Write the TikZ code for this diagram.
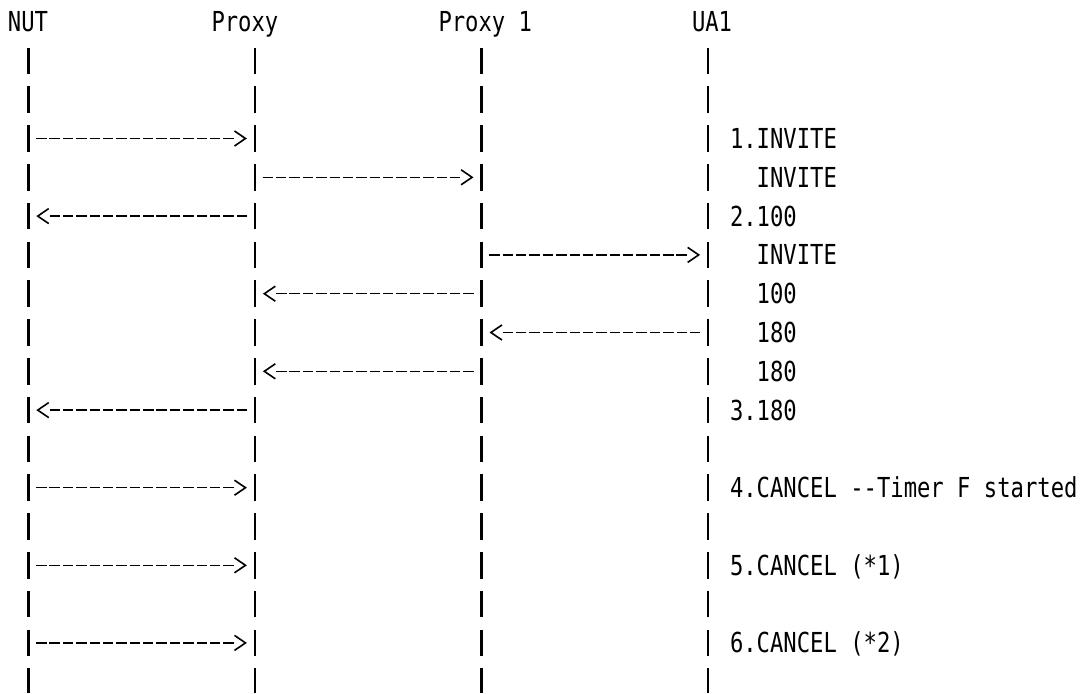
\documentclass[tikz,border=0pt]{standalone}
\usepackage{fontspec}
\newfontfamily\seqmono{DejaVu Sans Mono}
\usetikzlibrary{arrows.meta}
\newcommand{\seqtxt}[1]{\scalebox{1}[1.24]{\seqmono\fontsize{22.2pt}{26pt}\selectfont #1}}
\begin{document}
\begin{tikzpicture}[x=1pt,y=-1pt,
  lifeline/.style={line width=2.4pt, line cap=butt,
    dash pattern=on 26.7pt off 12.1pt},
  msg/.style={line width=1.5pt, line cap=butt,
    dash pattern=on 10.4pt off 2.97pt on 10.4pt off 2.97pt on 10.4pt off 2.97pt
      on 10.4pt off 2.97pt on 10.4pt off 2.97pt on 10.4pt off 2.97pt
      on 10.4pt off 2.97pt on 10.4pt off 2.97pt on 10.4pt off 2.97pt
      on 10.4pt off 2.97pt on 10.4pt off 2.97pt on 10.4pt off 2.97pt
      on 10.4pt off 2.97pt on 10.4pt off 2.97pt on 10.4pt off 2.97pt
      on 0pt off 60pt,
    shorten <=7.8pt, shorten >=8pt,
    -{Straight Barb[length=11pt,width=15pt,line width=1.6pt]}},
  lbl/.style={anchor=base west, inner sep=0pt, outer sep=0pt}]
\useasboundingbox (0,0) rectangle (1083,693);
\fill[white] (0,0) rectangle (1083,693);
% rows
\foreach \k in {0,...,17} {\coordinate (r\k) at (0,{22.1+38.8*\k});}
% headers
\node[lbl] (nut) at (8,32) {\seqtxt{NUT}};
\node[lbl] (proxy) at (211.5,32) {\seqtxt{Proxy}};
\node[lbl] (proxyone) at (438.5,32) {\seqtxt{Proxy 1}};
\node[lbl] (uaone) at (692,32) {\seqtxt{UA1}};
% lifelines
\coordinate (L1top) at (28.3,47.55);  \coordinate (L1bot) at (28.3,693);
\coordinate (L2top) at (254.9,47.55); \coordinate (L2bot) at (254.9,693);
\coordinate (L3top) at (481.5,47.55); \coordinate (L3bot) at (481.5,693);
\coordinate (L4top) at (708.1,47.55); \coordinate (L4bot) at (708.1,693);
\foreach \l in {L1,L2,L3,L4} {\draw[lifeline] (\l top) -- (\l bot);}
% messages
\draw[msg] (L1top |- r3) -- (L2top |- r3);
\draw[msg] (L2top |- r4) -- (L3top |- r4);
\draw[msg] (L2top |- r5) -- (L1top |- r5);
\draw[msg] (L3top |- r6) -- (L4top |- r6);
\draw[msg] (L3top |- r7) -- (L2top |- r7);
\draw[msg] (L4top |- r8) -- (L3top |- r8);
\draw[msg] (L3top |- r9) -- (L2top |- r9);
\draw[msg] (L2top |- r10) -- (L1top |- r10);
\draw[msg] (L1top |- r12) -- (L2top |- r12);
\draw[msg] (L1top |- r14) -- (L2top |- r14);
\draw[msg] (L1top |- r16) -- (L2top |- r16);
% labels
\node[lbl] (t1) at (730,148.4) {\seqtxt{1.INVITE}};
\node[lbl] (t2) at (756.7,187.2) {\seqtxt{INVITE}};
\node[lbl] (t3) at (730,226.0) {\seqtxt{2.100}};
\node[lbl] (t4) at (756.7,264.8) {\seqtxt{INVITE}};
\node[lbl] (t5) at (756.7,303.6) {\seqtxt{100}};
\node[lbl] (t6) at (756.7,342.4) {\seqtxt{180}};
\node[lbl] (t7) at (756.7,381.2) {\seqtxt{180}};
\node[lbl] (t8) at (730,420.0) {\seqtxt{3.180}};
\node[lbl] (t9) at (730,497.6) {\seqtxt{4.CANCEL -{}-Timer F started}};
\node[lbl] (t10) at (730,575.2) {\seqtxt{5.CANCEL (*1)}};
\node[lbl] (t11) at (730,652.8) {\seqtxt{6.CANCEL (*2)}};
\end{tikzpicture}
\end{document}
